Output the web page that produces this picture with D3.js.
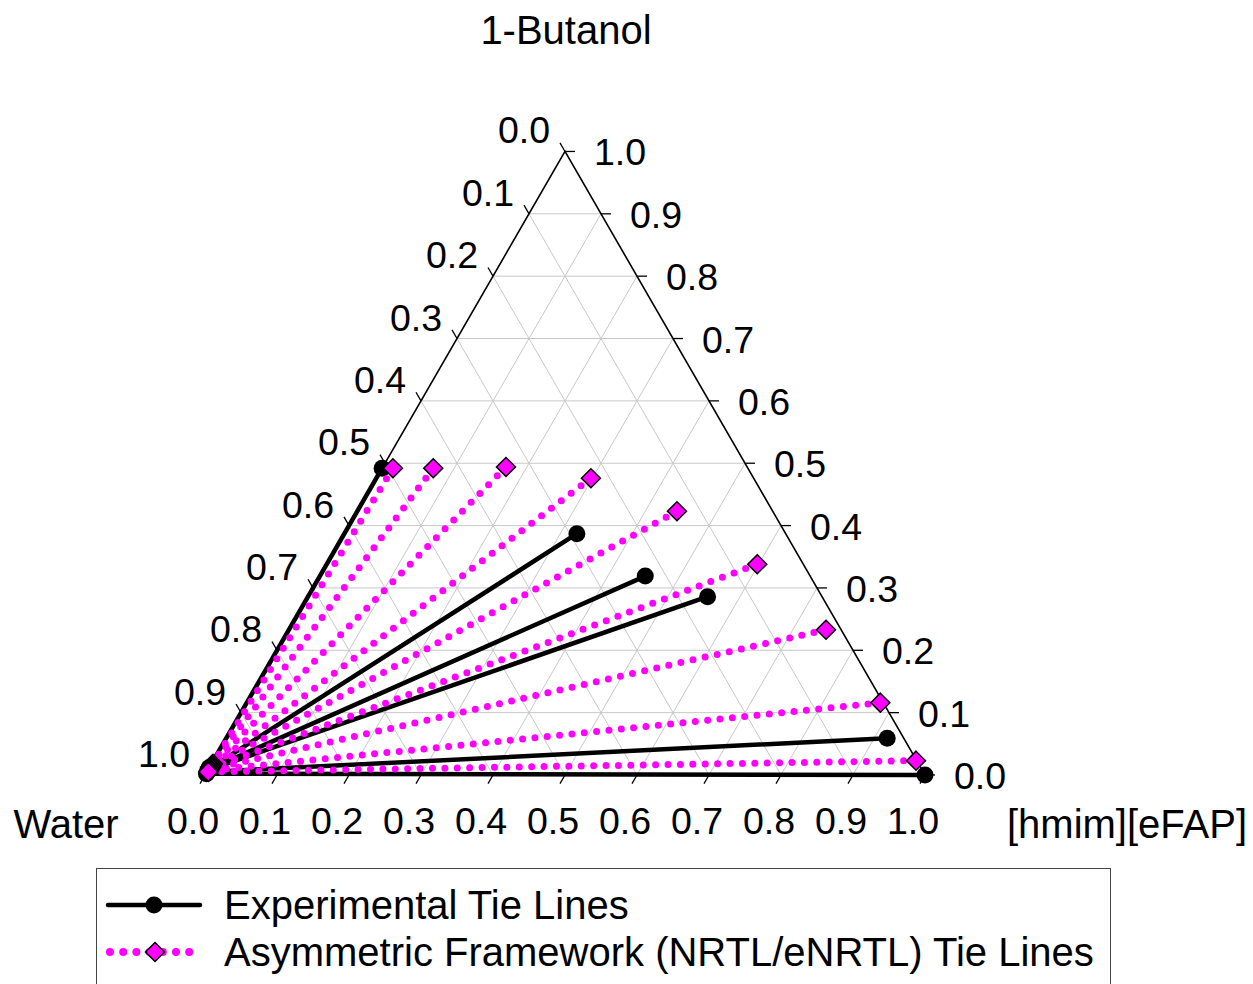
<!DOCTYPE html>
<html>
<head>
<meta charset="utf-8">
<script src="https://cdn.jsdelivr.net/npm/d3@7"></script>
<style>
  html, body { margin: 0; padding: 0; background: #fff; }
  svg { display: block; }
  text { font-family: "Liberation Sans", Arial, Helvetica, sans-serif; fill: #000; }
</style>
</head>
<body>
<svg id="chart" width="1253" height="984"></svg>
<script>
// Compositions are mole fractions [1-Butanol, [hmim][eFAP]]; water = 1 - both.
const tickValues = [0, 0.1, 0.2, 0.3, 0.4, 0.5, 0.6, 0.7, 0.8, 0.9, 1.0];

// Experimental tie lines: organic (butanol/IL-rich) phase and aqueous phase
const expOrganic = [
  [0.492, 0.000],
  [0.387, 0.323],
  [0.319, 0.452],
  [0.286, 0.555],
  [0.059, 0.918],
  [0.000, 1.000]
];
const expAqueous = [
  [0.012, 0.000],
  [0.010, 0.001],
  [0.009, 0.001],
  [0.008, 0.001],
  [0.005, 0.001],
  [0.002, 0.001]
];

// Asymmetric framework (NRTL/eNRTL) tie lines
const modelOrganic = [
  [0.492, 0.015],
  [0.492, 0.071],
  [0.494, 0.171],
  [0.476, 0.298],
  [0.423, 0.444],
  [0.338, 0.598],
  [0.233, 0.746],
  [0.116, 0.880],
  [0.023, 0.976]
];
const modelAqueous = [
  [0.018, 0.002],
  [0.016, 0.002],
  [0.015, 0.002],
  [0.013, 0.002],
  [0.012, 0.002],
  [0.010, 0.002],
  [0.009, 0.002],
  [0.007, 0.002],
  [0.005, 0.002]
];

const componentNames = { top: "1-Butanol", left: "Water", right: "[hmim][eFAP]" };
const legendLabels = ["Experimental Tie Lines", "Asymmetric Framework (NRTL/eNRTL) Tie Lines"];

const svg = d3.select("#chart");

// Ternary geometry: water at bottom-left, IL at bottom-right, butanol at top
const side = 720;
const height = side * Math.sqrt(3) / 2;
const x0 = 205, yBase = 775;
const xScale = d3.scaleLinear().domain([0, 1]).range([x0, x0 + side]);
const yScale = d3.scaleLinear().domain([0, 1]).range([yBase, yBase - height]);

// project [butanol, IL] to screen coordinates
function proj(c) {
  const b = c[0], il = c[1];
  return [xScale(il + b / 2), yScale(b)];
}

const fmt = d3.format(".1f");
const FS_TICK = 37.5, FS_TITLE = 40;

// Grid
const grid = svg.append("g").attr("stroke", "#c8c8c8").attr("stroke-width", 1).attr("fill", "none");
const inner = tickValues.filter(k => k > 0 && k < 1);
inner.forEach(k => {
  // constant butanol
  let a = proj([k, 0]), b = proj([k, 1 - k]);
  grid.append("line").attr("x1", a[0]).attr("y1", a[1]).attr("x2", b[0]).attr("y2", b[1]);
  // constant IL
  a = proj([0, k]); b = proj([1 - k, k]);
  grid.append("line").attr("x1", a[0]).attr("y1", a[1]).attr("x2", b[0]).attr("y2", b[1]);
  // constant water
  a = proj([0, 1 - k]); b = proj([1 - k, 0]);
  grid.append("line").attr("x1", a[0]).attr("y1", a[1]).attr("x2", b[0]).attr("y2", b[1]);
});

// Triangle frame
const W = proj([0, 0]), IL = proj([0, 1]), B = proj([1, 0]);
svg.append("path")
  .attr("d", d3.line()([W, IL, B]) + "Z")
  .attr("fill", "none").attr("stroke", "#000").attr("stroke-width", 1.6);

// Ticks and tick labels
const tickLen = 10;
const ticks = svg.append("g").attr("stroke", "#000").attr("stroke-width", 1.3);
const labels = svg.append("g").attr("font-size", FS_TICK);
tickValues.forEach(k => {
  // left axis: water fraction
  let p = proj([1 - k, 0]);
  ticks.append("line").attr("x1", p[0]).attr("y1", p[1])
    .attr("x2", p[0] - 0.5 * tickLen).attr("y2", p[1] - 0.866 * tickLen);
  labels.append("text").attr("x", p[0] - 41).attr("y", p[1] - 21)
    .attr("text-anchor", "middle").attr("dominant-baseline", "central").text(fmt(k));

  // right axis: butanol fraction
  p = proj([k, 1 - k]);
  ticks.append("line").attr("x1", p[0]).attr("y1", p[1])
    .attr("x2", p[0] + tickLen).attr("y2", p[1]);
  labels.append("text").attr("x", p[0] + 29).attr("y", p[1] + 1)
    .attr("text-anchor", "start").attr("dominant-baseline", "central").text(fmt(k));

  // bottom axis: IL fraction
  p = proj([0, k]);
  ticks.append("line").attr("x1", p[0]).attr("y1", p[1])
    .attr("x2", p[0] - 0.5 * tickLen).attr("y2", p[1] + 0.866 * tickLen);
  labels.append("text").attr("x", p[0] - 12).attr("y", p[1] + 46)
    .attr("text-anchor", "middle").attr("dominant-baseline", "central").text(fmt(k));
});

// Component titles
svg.append("text").attr("x", 566).attr("y", 30).attr("font-size", FS_TITLE)
  .attr("text-anchor", "middle").attr("dominant-baseline", "central").text(componentNames.top);
svg.append("text").attr("x", 66).attr("y", 824).attr("font-size", FS_TITLE)
  .attr("text-anchor", "middle").attr("dominant-baseline", "central").text(componentNames.left);
svg.append("text").attr("x", 1127).attr("y", 824).attr("font-size", FS_TITLE)
  .attr("text-anchor", "middle").attr("dominant-baseline", "central").text(componentNames.right);

// Styles
const diamondPath = r => `M0,${-r}L${r},0L0,${r}L${-r},0Z`;
const DOT = { width: 7, dash: "0 12.4" };

// Experimental tie lines
const expG = svg.append("g");
expOrganic.forEach((org, i) => {
  const a = proj(expAqueous[i]), b = proj(org);
  expG.append("line").attr("x1", a[0]).attr("y1", a[1]).attr("x2", b[0]).attr("y2", b[1])
    .attr("stroke", "#000").attr("stroke-width", 4.5).attr("stroke-linecap", "round");
});
expOrganic.concat(expAqueous).forEach(c => {
  const p = proj(c);
  expG.append("circle").attr("cx", p[0]).attr("cy", p[1]).attr("r", 8.5).attr("fill", "#000");
});

// Model tie lines
const modG = svg.append("g");
modelOrganic.forEach((org, i) => {
  const a = proj(modelAqueous[i]), b = proj(org);
  modG.append("line").attr("x1", b[0]).attr("y1", b[1]).attr("x2", a[0]).attr("y2", a[1])
    .attr("stroke", "#ff00ff").attr("stroke-width", DOT.width)
    .attr("stroke-linecap", "round").attr("stroke-dasharray", DOT.dash);
});
modelOrganic.concat(modelAqueous).forEach(c => {
  const p = proj(c);
  modG.append("path").attr("d", diamondPath(9.5)).attr("transform", `translate(${p[0]},${p[1]})`)
    .attr("fill", "#ff00ff").attr("stroke", "#000").attr("stroke-width", 1.5);
});

// Legend
const lg = svg.append("g");
lg.append("rect").attr("x", 96.5).attr("y", 868.5).attr("width", 1014).attr("height", 140)
  .attr("fill", "#fff").attr("stroke", "#444").attr("stroke-width", 1);
lg.append("line").attr("x1", 108).attr("y1", 905).attr("x2", 200).attr("y2", 905)
  .attr("stroke", "#000").attr("stroke-width", 4.5).attr("stroke-linecap", "round");
lg.append("circle").attr("cx", 154).attr("cy", 905).attr("r", 8.5).attr("fill", "#000");
lg.append("line").attr("x1", 110).attr("y1", 952).attr("x2", 198).attr("y2", 952)
  .attr("stroke", "#ff00ff").attr("stroke-width", 8)
  .attr("stroke-linecap", "round").attr("stroke-dasharray", "0 13.2");
lg.append("path").attr("d", diamondPath(9.5)).attr("transform", "translate(155,952)")
  .attr("fill", "#ff00ff").attr("stroke", "#000").attr("stroke-width", 1.5);
legendLabels.forEach((t, i) => {
  lg.append("text").attr("x", 224).attr("y", 905 + i * 47).attr("font-size", FS_TITLE)
    .attr("dominant-baseline", "central").text(t);
});
</script>
</body>
</html>
